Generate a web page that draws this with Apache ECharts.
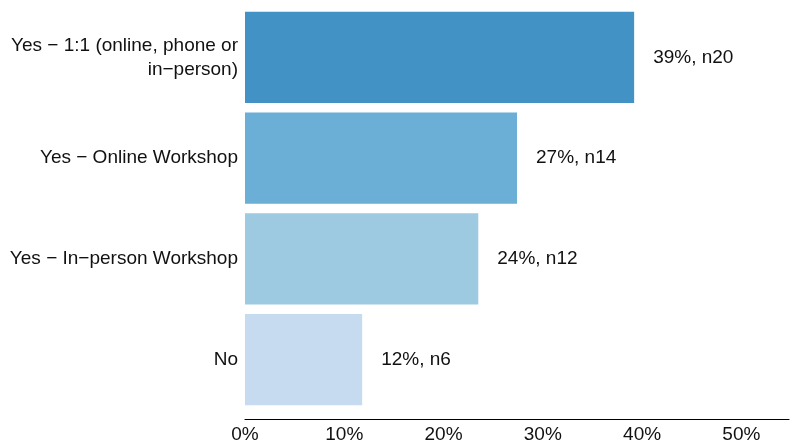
<!DOCTYPE html>
<html>
<head>
<meta charset="utf-8">
<script src="https://cdn.jsdelivr.net/npm/echarts@6/dist/echarts.min.js"></script>
<style>
  html, body { margin: 0; padding: 0; background: #ffffff; }
  #chart { width: 798px; height: 444px; }
</style>
</head>
<body>
<div id="chart"></div>
<script>
// Response categories, top to bottom
const categories = [
  'Yes \u2212 1:1 (online, phone or\nin\u2212person)',
  'Yes \u2212 Online Workshop',
  'Yes \u2212 In\u2212person Workshop',
  'No'
];
// Share of respondents (%) and counts
const percents = [39.2, 27.4, 23.5, 11.8];
const counts = [20, 14, 12, 6];
const barColors = ['#4292c6', '#6baed6', '#9ecae1', '#c6dbef'];
const xTicks = [0, 10, 20, 30, 40, 50];

const chart = echarts.init(document.getElementById('chart'));
const font = 'Liberation Sans, Arial, sans-serif';
const textColor = '#111111';
const fontSize = 19;

chart.setOption({
  animation: false,
  grid: { left: 245, right: 9, top: 7, bottom: 34, containLabel: false },
  xAxis: {
    type: 'value',
    min: 0,
    max: 54.8,
    interval: 10,
    offset: 9,
    splitLine: { show: false },
    axisTick: { show: false },
    axisLine: { show: true, lineStyle: { color: '#000000', width: 1.2 } },
    axisLabel: {
      color: textColor,
      fontFamily: font,
      fontSize: fontSize,
      margin: 6,
      showMaxLabel: false,
      formatter: v => (xTicks.indexOf(v) >= 0 ? v + '%' : '')
    }
  },
  yAxis: {
    type: 'category',
    data: categories,
    inverse: true,
    axisLine: { show: false },
    axisTick: { show: false },
    axisLabel: {
      color: textColor,
      fontFamily: font,
      fontSize: fontSize,
      margin: 7,
      lineHeight: 24,
      padding: [3, 0, 0, 0],
      align: 'right'
    }
  },
  series: [{
    type: 'bar',
    barCategoryGap: '9.6%',
    data: percents.map((v, i) => ({ value: v, itemStyle: { color: barColors[i] } })),
    label: {
      show: true,
      position: 'right',
      distance: 19,
      color: textColor,
      fontFamily: font,
      fontSize: fontSize,
      padding: [3, 0, 0, 0],
      formatter: p => Math.round(percents[p.dataIndex]) + '%, n' + counts[p.dataIndex]
    }
  }]
});
</script>
</body>
</html>
